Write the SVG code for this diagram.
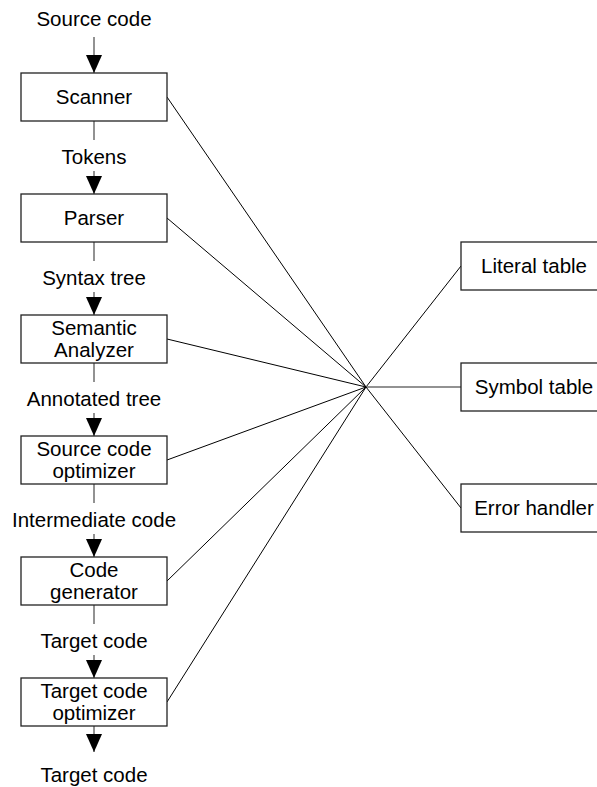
<svg xmlns="http://www.w3.org/2000/svg" width="597" height="787" viewBox="0 0 597 787">
<style>
.box{fill:#fff;stroke:#222;stroke-width:1.3}
.t{font-family:"Liberation Sans",Arial,sans-serif;font-size:20.5px;fill:#000;text-anchor:middle}
.v{stroke:#6e6e6e;stroke-width:1.5;fill:none}
.d{stroke:#000;stroke-width:1;fill:none}
</style>
<defs>
<marker id="ah" markerUnits="userSpaceOnUse" markerWidth="18" markerHeight="17" refX="18" refY="8" orient="auto">
<path d="M0,0 L18,8 L0,16 z" fill="#000"/>
</marker>
</defs>
<g id="connectors">
<line class="v" x1="94" y1="37" x2="94" y2="73" marker-end="url(#ah)"/>
<line class="v" x1="94" y1="121" x2="94" y2="140"/>
<line class="v" x1="94" y1="171" x2="94" y2="194" marker-end="url(#ah)"/>
<line class="v" x1="94" y1="242" x2="94" y2="261"/>
<line class="v" x1="94" y1="292" x2="94" y2="315" marker-end="url(#ah)"/>
<line class="v" x1="94" y1="363" x2="94" y2="382"/>
<line class="v" x1="94" y1="413" x2="94" y2="436" marker-end="url(#ah)"/>
<line class="v" x1="94" y1="484" x2="94" y2="503"/>
<line class="v" x1="94" y1="534" x2="94" y2="557" marker-end="url(#ah)"/>
<line class="v" x1="94" y1="605" x2="94" y2="624"/>
<line class="v" x1="94" y1="655" x2="94" y2="678" marker-end="url(#ah)"/>
<line class="v" x1="94" y1="726" x2="94" y2="752" marker-end="url(#ah)"/>
<line class="d" x1="167" y1="97" x2="366" y2="387"/>
<line class="d" x1="167" y1="218" x2="366" y2="387"/>
<line class="d" x1="167" y1="339" x2="366" y2="387"/>
<line class="d" x1="167" y1="460" x2="366" y2="387"/>
<line class="d" x1="167" y1="581" x2="366" y2="387"/>
<line class="d" x1="167" y1="702" x2="366" y2="387"/>
<line class="d" x1="461" y1="266" x2="366" y2="387"/>
<line class="v" x1="461" y1="387" x2="366" y2="387"/>
<line class="d" x1="461" y1="508" x2="366" y2="387"/>
</g>
<g id="labels">
<text class="t" x="94" y="26">Source code</text>
<text class="t" x="94" y="164">Tokens</text>
<text class="t" x="94" y="285">Syntax tree</text>
<text class="t" x="94" y="406">Annotated tree</text>
<text class="t" x="94" y="527">Intermediate code</text>
<text class="t" x="94" y="648">Target code</text>
<text class="t" x="94" y="782">Target code</text>
</g>
<g id="scanner"><rect class="box" x="21" y="73" width="146" height="48"/><text class="t" x="94" y="104">Scanner</text></g>
<g id="parser"><rect class="box" x="21" y="194" width="146" height="48"/><text class="t" x="94" y="225">Parser</text></g>
<g id="semantic"><rect class="box" x="21" y="315" width="146" height="48"/><text class="t" x="94" y="335">Semantic</text><text class="t" x="94" y="357">Analyzer</text></g>
<g id="sco"><rect class="box" x="21" y="436" width="146" height="48"/><text class="t" x="94" y="456">Source code</text><text class="t" x="94" y="478">optimizer</text></g>
<g id="codegen"><rect class="box" x="21" y="557" width="146" height="48"/><text class="t" x="94" y="577">Code</text><text class="t" x="94" y="599">generator</text></g>
<g id="tco"><rect class="box" x="21" y="678" width="146" height="48"/><text class="t" x="94" y="698">Target code</text><text class="t" x="94" y="720">optimizer</text></g>
<g id="literal"><rect class="box" x="461" y="242" width="146" height="48"/><text class="t" x="534" y="273">Literal table</text></g>
<g id="symbol"><rect class="box" x="461" y="363" width="146" height="48"/><text class="t" x="534" y="394">Symbol table</text></g>
<g id="error"><rect class="box" x="461" y="484" width="146" height="48"/><text class="t" x="534" y="515">Error handler</text></g>
</svg>
